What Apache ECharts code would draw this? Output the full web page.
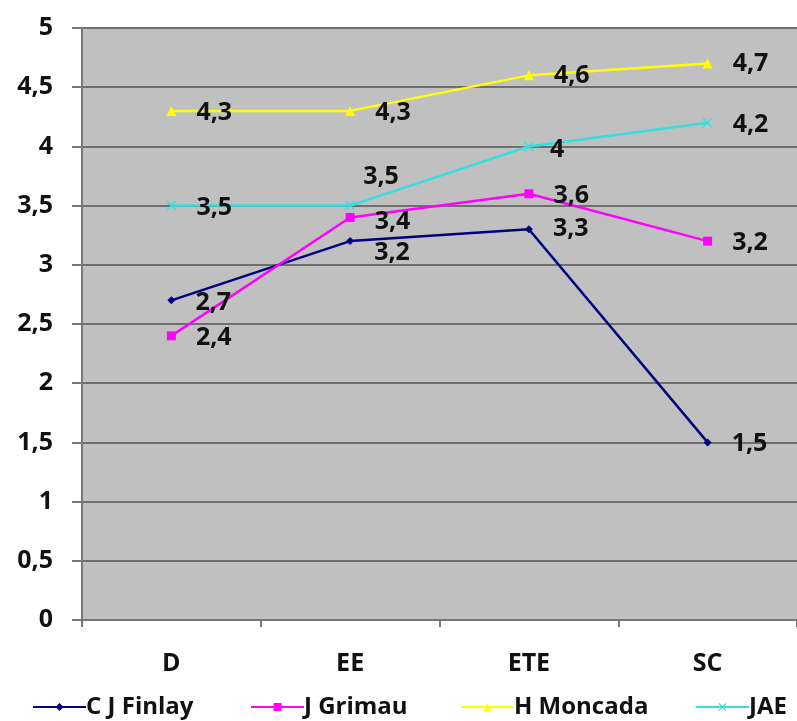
<!DOCTYPE html>
<html>
<head>
<meta charset="utf-8">
<script src="https://cdn.jsdelivr.net/npm/echarts@6/dist/echarts.min.js"></script>
<style>
  html, body { margin: 0; padding: 0; background: #ffffff; }
  #chart { width: 797px; height: 721px; }
</style>
</head>
<body>
<div id="chart"></div>
<script>
// Categories and series values
var categories = ['D', 'EE', 'ETE', 'SC'];
var seriesNames = ['C J Finlay', 'J Grimau', 'H Moncada', 'JAE'];
var finlay  = [2.7, 3.2, 3.3, 1.5];
var grimau  = [2.4, 3.4, 3.6, 3.2];
var moncada = [4.3, 4.3, 4.6, 4.7];
var jae     = [3.5, 3.5, 4.0, 4.2];
var yTicks  = [0, 0.5, 1, 1.5, 2, 2.5, 3, 3.5, 4, 4.5, 5];

var FONT = '"Open Sans", Lato, sans-serif';
function comma(v) { return String(v).replace('.', ','); }

// Small label nudges (x, y in px) per series and category, so labels don't collide
var nudges = [
  [[0, 3], [0, 12], [0, 0], [0, 1]],
  [[0, 2], [0, 4], [0, 2], [0, 2]],
  [[0, 2], [0, 2], [0, 1], [0, 0]],
  [[0, 2], [-12, -29], [-4, 3], [0, 2]]
];

var markers = [
  { symbol: 'diamond', size: 8, color: '#000080' },
  { symbol: 'rect', size: 9, color: '#ff00ff' },
  { symbol: 'triangle', size: 10, color: '#ffff00' },
  { symbol: 'path://M0,1L1,0L5,4L9,0L10,1L6,5L10,9L9,10L5,6L1,10L0,9L4,5Z', size: 10, color: '#33e0e0' }
];

var values = [finlay, grimau, moncada, jae];

var series = values.map(function (vals, si) {
  var m = markers[si];
  return {
    name: seriesNames[si],
    type: 'line',
    data: vals.map(function (v, ci) {
      return { value: v, label: { offset: nudges[si][ci] } };
    }),
    symbol: m.symbol,
    symbolSize: m.size,
    showAllSymbol: true,
    lineStyle: { color: m.color, width: 2.5 },
    itemStyle: { color: m.color, borderWidth: 0 },
    label: {
      show: true,
      position: 'right',
      distance: 20,
      color: '#111',
      fontFamily: FONT,
      fontWeight: 'bold',
      fontSize: 25,
      formatter: function (p) { return comma(p.value); }
    },
    animation: false
  };
});

// One legend per series so each entry sits where it belongs along the bottom
var legendLefts = [27, 245, 455, 690];
var legends = seriesNames.map(function (name, i) {
  return {
    left: legendLefts[i],
    top: 690,
    itemWidth: 53,
    itemHeight: 10,
    itemGap: 0,
    data: [name],
    textStyle: { fontFamily: FONT, fontWeight: 'bold', fontSize: 24, color: '#111', padding: [0, 0, 0, -5] }
  };
});

var chart = echarts.init(document.getElementById('chart'), null, { renderer: 'canvas' });
chart.setOption({
  backgroundColor: '#ffffff',
  animation: false,
  grid: { left: 82, top: 28, width: 720, bottom: 101, show: true, backgroundColor: '#c0c0c0', borderWidth: 0 },
  legend: legends,
  xAxis: {
    type: 'category',
    data: categories,
    boundaryGap: true,
    axisLine: { lineStyle: { color: '#777777', width: 2 } },
    axisTick: { show: true, length: 7, lineStyle: { color: '#777777', width: 2 } },
    axisLabel: { margin: 31, fontFamily: FONT, fontWeight: 'bold', fontSize: 25, color: '#111' }
  },
  yAxis: {
    type: 'value',
    min: yTicks[0],
    max: yTicks[yTicks.length - 1],
    interval: 0.5,
    axisLine: { show: true, lineStyle: { color: '#777777', width: 2 } },
    axisTick: { show: true, length: 10, lineStyle: { color: '#777777', width: 2 } },
    splitLine: { show: true, lineStyle: { color: '#6f6f6f', width: 2 } },
    axisLabel: {
      margin: 29,
      fontFamily: FONT,
      fontWeight: 'bold',
      fontSize: 25,
      color: '#111',
      formatter: function (v) { return comma(v); }
    }
  },
  series: series
});
</script>
</body>
</html>
